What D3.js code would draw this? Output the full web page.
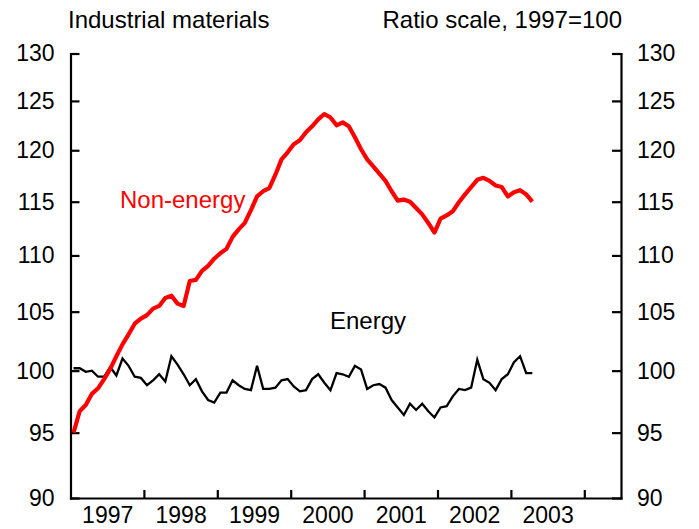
<!DOCTYPE html>
<html>
<head>
<meta charset="utf-8">
<script src="https://d3js.org/d3.v7.min.js"></script>
<style>
  html, body { margin: 0; padding: 0; background: #fff; }
  svg { display: block; }
  text { font-family: "Liberation Sans", Arial, sans-serif; }
</style>
</head>
<body>
<svg id="chart" width="699" height="529"></svg>
<script>
// Monthly observations, Jan 1997 – Apr 2003 (index, 1997 = 100)
const startYear = 1997;
const nonEnergy = [
  95.0, 96.7, 97.2, 98.1, 98.55, 99.3, 100.15, 101.2, 102.2, 103.05, 103.96, 104.4,
  104.7, 105.26, 105.5, 106.2, 106.4, 105.7, 105.5, 107.7, 107.8, 108.6, 109.05, 109.7,
  110.2, 110.6, 111.7, 112.4, 113.0, 114.2, 115.5, 116.0, 116.3, 117.6, 119.1, 119.8,
  120.6, 121.0, 121.8, 122.4, 123.1, 123.65, 123.3, 122.5, 122.8, 122.4, 121.3, 120.1,
  119.1, 118.4, 117.7, 117.0, 116.0, 115.1, 115.2, 115.0, 114.4, 113.8, 113.0, 112.1,
  113.4, 113.7, 114.1, 114.95, 115.7, 116.4, 117.1, 117.3, 117.0, 116.55, 116.4, 115.5,
  115.9, 116.1, 115.7, 115.0
];
const energy = [
  100.2, 100.2, 99.9, 100.0, 99.5, 99.5, 100.3, 99.6, 101.0, 100.4, 99.5, 99.4,
  98.8, 99.2, 99.7, 99.1, 101.2, 100.5, 99.7, 98.8, 99.3, 98.3, 97.6, 97.4,
  98.2, 98.2, 99.2, 98.8, 98.5, 98.4, 100.4, 98.5, 98.5, 98.6, 99.2, 99.3,
  98.7, 98.3, 98.4, 99.3, 99.7, 99.0, 98.4, 99.8, 99.7, 99.5, 100.4, 100.1,
  98.5, 98.8, 98.9, 98.6, 97.6, 97.0, 96.4, 97.3, 96.8, 97.3, 96.7, 96.2,
  97.0, 97.1, 97.9, 98.5, 98.4, 98.6, 100.9, 99.3, 99.0, 98.4, 99.3, 99.7,
  100.7, 101.2, 99.8, 99.8
];
const yTicks = [90, 95, 100, 105, 110, 115, 120, 125, 130];
const yearTicks = [1998, 1999, 2000, 2001, 2002, 2003, 2004];
const yearLabels = [1997, 1998, 1999, 2000, 2001, 2002, 2003];
const xDomain = [1997, 2004.5];
const yDomain = [90, 130];
const titleLeft = "Industrial materials";
const titleRight = "Ratio scale, 1997=100";
const seriesNames = ["Non-energy", "Energy"];

const svg = d3.select("#chart");
const mLeft = 70.5, mRight = 621, mTop = 53.5, mBottom = 498;
const fs = 23, fsT = 24;

const x = d3.scaleLinear().domain(xDomain).range([mLeft, mRight]);
const y = d3.scaleLog().domain(yDomain).range([mBottom, mTop]);

const toPts = arr => arr.map((v, i) => [startYear + (i + 0.5) / 12, v]);
const line = d3.line().x(d => x(d[0])).y(d => y(d[1]));

// Axes
const yFmt = d => String(d);
const axL = svg.append("g").attr("transform", `translate(${mLeft},0)`)
  .call(d3.axisLeft(y).tickValues(yTicks).tickFormat(yFmt).tickSizeInner(-9).tickSizeOuter(0).tickPadding(16));
const axR = svg.append("g").attr("transform", `translate(${mRight},0)`)
  .call(d3.axisRight(y).tickValues(yTicks).tickFormat(yFmt).tickSizeInner(-9).tickSizeOuter(0).tickPadding(16));
const axB = svg.append("g").attr("transform", `translate(0,${mBottom})`)
  .call(d3.axisBottom(x).tickValues(yearTicks).tickFormat("").tickSizeInner(-8).tickSizeOuter(0));
const axBL = svg.append("g").attr("transform", `translate(0,${mBottom})`)
  .call(d3.axisBottom(x).tickValues(yearLabels.map(v => v + 0.5)).tickFormat(d => String(Math.floor(d))).tickSize(0).tickPadding(9));
axBL.select(".domain").remove();

[axL, axR, axB].forEach(g => {
  g.select(".domain").attr("stroke", "#000").attr("stroke-width", 2.2);
  g.selectAll(".tick line").attr("stroke", "#000").attr("stroke-width", 2.2);
});
[axL, axR, axB, axBL].forEach(g => {
  g.selectAll("text").attr("font-size", fs).attr("fill", "#000")
    .attr("font-family", '"Liberation Sans", Arial, sans-serif');
});
svg.selectAll(".domain").attr("stroke-linecap", "square");

// Lines
svg.append("path").datum(toPts(energy))
  .attr("fill", "none").attr("stroke", "#000").attr("stroke-width", 2.3)
  .attr("stroke-linejoin", "miter").attr("d", line);
svg.append("path").datum(toPts(nonEnergy))
  .attr("fill", "none").attr("stroke", "#ff0000").attr("stroke-width", 4.2)
  .attr("stroke-linejoin", "round").attr("d", line);

// Texts
svg.append("text").attr("x", 68).attr("y", 28).attr("font-size", fsT).text(titleLeft);
svg.append("text").attr("x", 622).attr("y", 28).attr("font-size", fsT)
  .attr("text-anchor", "end").text(titleRight);
svg.append("text").attr("x", 120).attr("y", 208).attr("font-size", fsT)
  .attr("fill", "#ff0000").text(seriesNames[0]);
svg.append("text").attr("x", 330).attr("y", 329).attr("font-size", fsT)
  .attr("fill", "#000").text(seriesNames[1]);
</script>
</body>
</html>
